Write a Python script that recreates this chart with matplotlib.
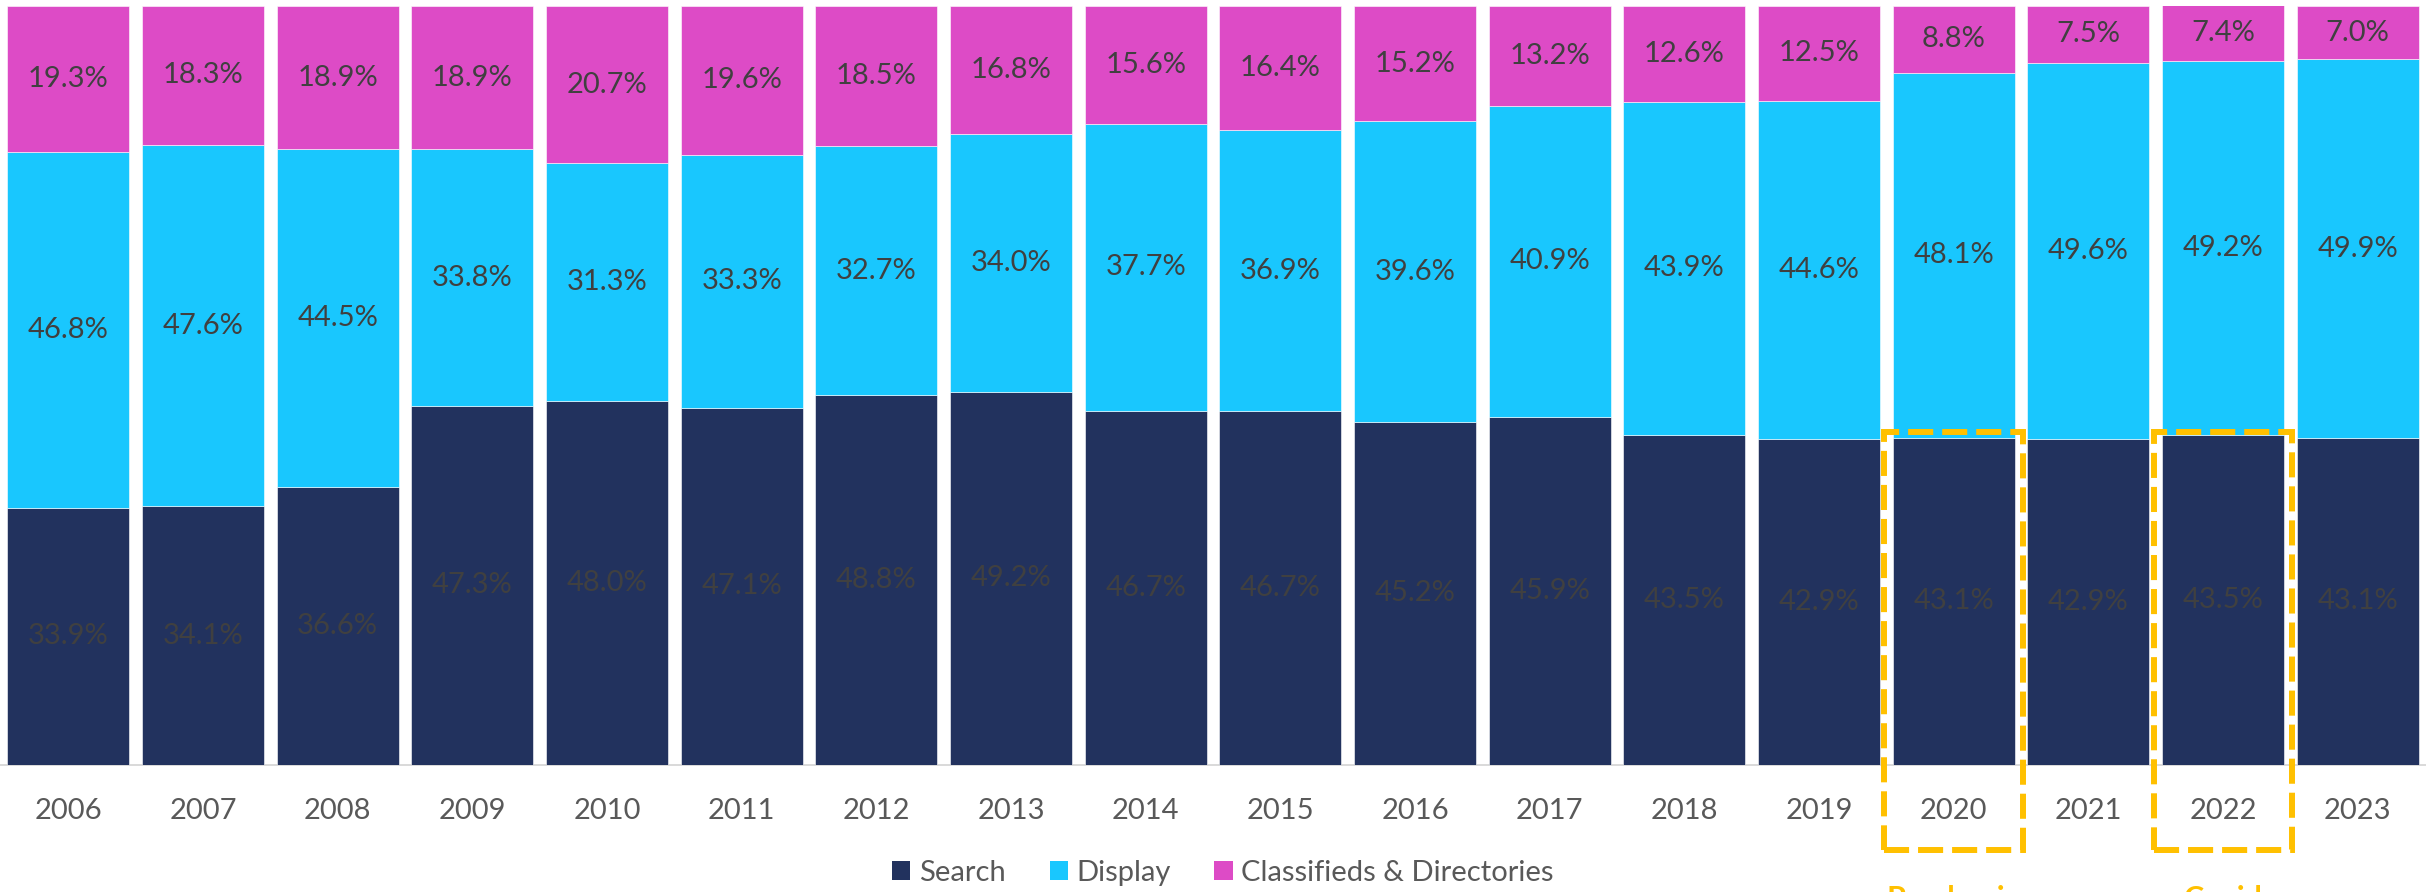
import matplotlib.pyplot as plt
from matplotlib.patches import Rectangle, Patch

plt.rcParams['font.family'] = ['Lato', 'DejaVu Sans']

years = ['2006', '2007', '2008', '2009', '2010', '2011', '2012', '2013', '2014',
         '2015', '2016', '2017', '2018', '2019', '2020', '2021', '2022', '2023']
search = [33.9, 34.1, 36.6, 47.3, 48.0, 47.1, 48.8, 49.2, 46.7,
          46.7, 45.2, 45.9, 43.5, 42.9, 43.1, 42.9, 43.5, 43.1]
display = [46.8, 47.6, 44.5, 33.8, 31.3, 33.3, 32.7, 34.0, 37.7,
           36.9, 39.6, 40.9, 43.9, 44.6, 48.1, 49.6, 49.2, 49.9]
classifieds = [19.3, 18.3, 18.9, 18.9, 20.7, 19.6, 18.5, 16.8, 15.6,
               16.4, 15.2, 13.2, 12.6, 12.5, 8.8, 7.5, 7.4, 7.0]

series = ['Search', 'Display', 'Classifieds & Directories']
colors = ['#22325E', '#19C7FE', '#DD4BC6']

# highlighted years and their notes
highlights = ['2020', '2022']
notes = ['Pandemic', 'Covid']

W, H = 2427, 892
fig = plt.figure(figsize=(W / 100, H / 100), dpi=100)
ax = fig.add_axes([1 / W, (H - 765) / H, 2424 / W, 759 / H])

x = list(range(len(years)))
bottom = [0] * len(years)
for name, vals, col in zip(series, [search, display, classifieds], colors):
    bars = ax.bar(x, vals, width=0.906, bottom=bottom, color=col,
                  edgecolor='white', linewidth=0.4, label=name)
    for xi, b, v in zip(x, bottom, vals):
        ax.text(xi, b + v / 2, f'{v:.1f}%', ha='center', va='center',
                fontsize=21, color='#404040')
    bottom = [b + v for b, v in zip(bottom, vals)]

ax.set_xlim(-0.5, len(years) - 0.5)
ax.set_ylim(0, 100)
ax.set_xticks(x)
ax.set_xticklabels(years, fontsize=21, color='#595959')
ax.tick_params(axis='x', length=0, pad=24)
ax.set_yticks([])
for s in ['top', 'left', 'right']:
    ax.spines[s].set_visible(False)
ax.spines['bottom'].set_color('#D9D9D9')
ax.spines['bottom'].set_linewidth(1.4)
ax.spines['bottom'].set_zorder(0.5)

for yr, note in zip(highlights, notes):
    i = years.index(yr)
    ax.add_patch(Rectangle((i - 0.516, -11.2), 1.032, 55.1, fill=False,
                           edgecolor='#FFC000', linewidth=4.3,
                           linestyle=(0, (4.2, 1.5)), clip_on=False, zorder=5))
    xf = (1 + (i + 0.5) * 2424 / 18) / W
    fig.text(xf, (H - 885) / H, note, ha='center', va='top', fontsize=22,
             fontweight='bold', color='#FFC000')

handles = [Patch(facecolor=c, edgecolor='none') for c in colors]
fig.legend(handles, series, loc='center', bbox_to_anchor=(1223 / W, (H - 873) / H),
           ncol=3, frameon=False, fontsize=21, labelcolor='#595959',
           handlelength=0.62, handleheight=0.65, handletextpad=0.3,
           columnspacing=1.5, borderpad=0, borderaxespad=0)

fig.savefig('out.png', dpi=100)
